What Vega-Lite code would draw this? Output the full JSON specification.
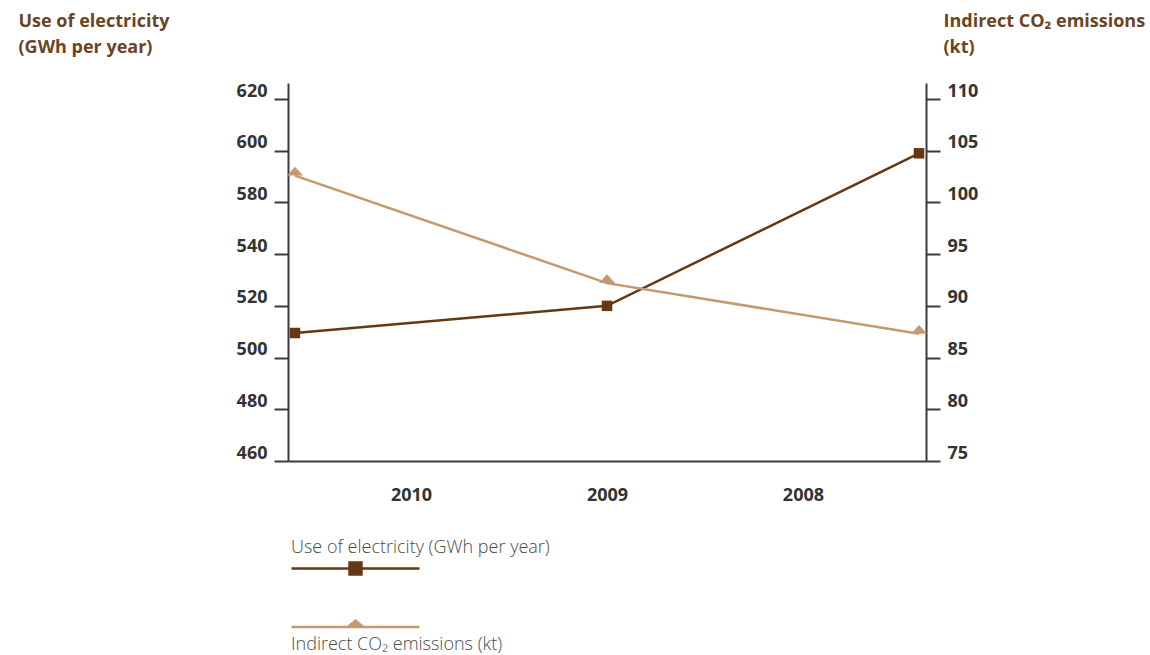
{
  "$schema": "https://vega.github.io/schema/vega-lite/v6.json",
  "autosize": {"type": "none"},
  "width": 638,
  "height": 378,
  "padding": {"left": 288, "top": 83, "right": 224, "bottom": 194},
  "background": "white",
  "config": {"view": {"stroke": null}, "font": "Open Sans", "axis": {"grid": false}},
  "data": {
    "values": [
      {"year": "2010", "series": "Use of electricity (GWh per year)", "value": 509.5},
      {"year": "2009", "series": "Use of electricity (GWh per year)", "value": 520},
      {"year": "2008", "series": "Use of electricity (GWh per year)", "value": 599},
      {"year": "2010", "series": "Indirect CO₂ emissions (kt)", "value": 102.6},
      {"year": "2009", "series": "Indirect CO₂ emissions (kt)", "value": 92.2},
      {"year": "2008", "series": "Indirect CO₂ emissions (kt)", "value": 87.3}
    ]
  },
  "layer": [
    {
      "mark": {"type": "point", "opacity": 0},
      "encoding": {
        "x": {
          "field": "year", "type": "ordinal", "sort": ["2010", "2009", "2008"],
          "scale": {"type": "point", "padding": 0.628},
          "axis": {
            "title": null, "labelAngle": 0, "labelFont": "Open Sans", "labelFontWeight": "bold",
            "labelFontSize": 18, "labelColor": "#333333", "labelPadding": 25, "ticks": false,
            "domainColor": "#3a3a3a", "domainWidth": 2
          }
        }
      }
    },
    {
      "transform": [{"filter": "datum.series === 'Use of electricity (GWh per year)'"}],
      "encoding": {
        "x": {
          "field": "year", "type": "ordinal", "sort": ["2010", "2009", "2008"],
          "scale": {"type": "point", "padding": 0.0224}, "axis": null
        },
        "y": {
          "field": "value", "type": "quantitative",
          "scale": {"domain": [460, 540, 580, 626.19], "range": [378, 171.14, 119.43, 0], "nice": false, "zero": false},
          "axis": {
            "orient": "left", "values": [460, 480, 500, 520, 540, 580, 600, 620],
            "tickSize": 14, "tickWidth": 2, "tickColor": "#3a3a3a", "domainColor": "#3a3a3a", "domainWidth": 2,
            "labelFont": "Open Sans", "labelFontSize": 18, "labelFontWeight": "bold", "labelColor": "#333333",
            "labelPadding": 7, "labelBaseline": "alphabetic", "labelOffset": -3,
            "title": ["Use of electricity", "(GWh per year)"], "titleAngle": 0, "titleAlign": "left",
            "titleBaseline": "top", "titleX": -270, "titleY": -71, "titleFont": "Open Sans",
            "titleFontSize": 18, "titleFontWeight": "bold", "titleColor": "#6b4423", "titleLineHeight": 26
          }
        },
        "color": {
          "field": "series", "type": "nominal",
          "scale": {"range": ["#633813"]},
          "legend": {
            "orient": "none", "legendX": 3, "legendY": 456, "direction": "vertical",
            "title": "Use of electricity (GWh per year)", "titleFont": "Open Sans", "titleFontWeight": 300,
            "titleFontSize": 18, "titleColor": "#4a4a4a", "titleOrient": "top", "titlePadding": 3, "titleLimit": 500,
            "symbolType": "M-9.14,0H9.14M-0.85,-0.85H0.85V0.85H-0.85Z", "symbolSize": 196, "symbolOffset": 56,
            "symbolStrokeWidth": 2.5, "padding": 0, "labelExpr": "''",
            "encode": {"symbols": {"update": {"fill": {"value": "#633813"}, "stroke": {"value": "#633813"}, "opacity": {"value": 1}}}}
          }
        }
      },
      "layer": [
        {"mark": {"type": "line", "strokeWidth": 2.5}},
        {"mark": {"type": "point", "shape": "square", "filled": true, "size": 110, "opacity": 1}}
      ]
    },
    {
      "transform": [{"filter": "datum.series === 'Indirect CO₂ emissions (kt)'"}],
      "encoding": {
        "x": {
          "field": "year", "type": "ordinal", "sort": ["2010", "2009", "2008"],
          "scale": {"type": "point", "padding": 0.0224}, "axis": null
        },
        "y": {
          "field": "value", "type": "quantitative",
          "scale": {"domain": [75, 111.55], "nice": false, "zero": false},
          "axis": {
            "orient": "right", "values": [75, 80, 85, 90, 95, 100, 105, 110],
            "tickSize": 14, "tickWidth": 2, "tickColor": "#3a3a3a", "domainColor": "#3a3a3a", "domainWidth": 2,
            "labelFont": "Open Sans", "labelFontSize": 18, "labelFontWeight": "bold", "labelColor": "#333333",
            "labelPadding": 7, "labelBaseline": "alphabetic", "labelOffset": -3,
            "title": ["Indirect CO₂ emissions", "(kt)"], "titleAngle": 0, "titleAlign": "left",
            "titleBaseline": "top", "titleX": 17, "titleY": -71, "titleFont": "Open Sans",
            "titleFontSize": 18, "titleFontWeight": "bold", "titleColor": "#6b4423", "titleLineHeight": 26
          }
        },
        "color": {
          "field": "series", "type": "nominal",
          "scale": {"range": ["#c49a6c"]},
          "legend": {
            "orient": "none", "legendX": 3, "legendY": 535.5, "direction": "vertical",
            "title": "Indirect CO₂ emissions (kt)", "titleFont": "Open Sans", "titleFontWeight": 300,
            "titleFontSize": 18, "titleColor": "#4a4a4a", "titleOrient": "bottom", "titlePadding": 3, "titleLimit": 500,
            "symbolType": "M-9.14,0H9.14M-1.1,0L0,-0.9L1.1,0Z", "symbolSize": 196, "symbolOffset": 56,
            "symbolStrokeWidth": 2.5, "padding": 0, "labelExpr": "''",
            "encode": {"symbols": {"update": {"fill": {"value": "#c49a6c"}, "stroke": {"value": "#c49a6c"}, "opacity": {"value": 1}}}}
          }
        }
      },
      "layer": [
        {"mark": {"type": "line", "strokeWidth": 2.5}},
        {"mark": {"type": "point", "shape": "M-1,0L0,-1.1L1,0Z", "filled": true, "size": 256, "opacity": 1}}
      ]
    }
  ],
  "resolve": {"scale": {"x": "independent", "y": "independent", "color": "independent"}}
}
